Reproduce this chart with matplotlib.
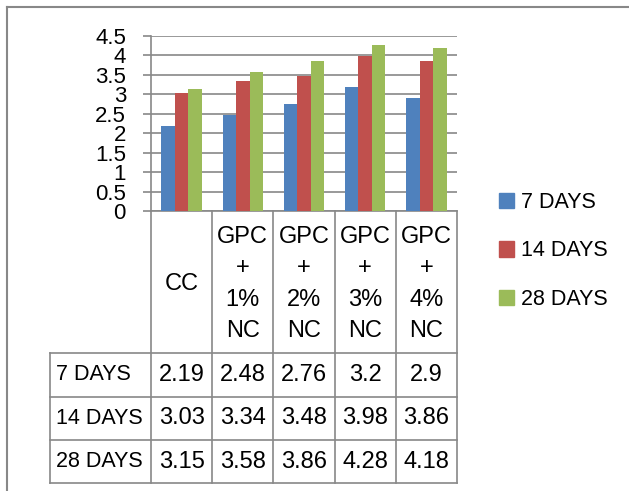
"""Flexural strength bar chart with an Excel-style data table underneath."""
import matplotlib.pyplot as plt
from matplotlib.lines import Line2D
from matplotlib.patches import Patch
from matplotlib.transforms import blended_transform_factory

plt.rcParams["font.family"] = ["Liberation Sans", "DejaVu Sans"]

categories = ["CC", "GPC\n+\n1%\nNC", "GPC\n+\n2%\nNC", "GPC\n+\n3%\nNC", "GPC\n+\n4%\nNC"]
series_names = ["7 DAYS", "14 DAYS", "28 DAYS"]
days_7 = [2.19, 2.48, 2.76, 3.2, 2.9]
days_14 = [3.03, 3.34, 3.48, 3.98, 3.86]
days_28 = [3.15, 3.58, 3.86, 4.28, 4.18]
yticks = [0, 0.5, 1, 1.5, 2, 2.5, 3, 3.5, 4, 4.5]

colors = ["#4F81BD", "#C0504D", "#9BBB59"]
grid_c = "#888888"
W, H = 629, 491
FS = 17      # numbers and category labels
FS_NAME = 15.5  # "n DAYS" labels


def fx(px):
    return px / W


def fy(py):
    return 1 - py / H


fig = plt.figure(figsize=(W / 100, H / 100), dpi=100)
ax = fig.add_axes([fx(151), fy(211), fx(457) - fx(151), fy(36) - fy(211)])

series = [days_7, days_14, days_28]
n = len(categories)
x = list(range(n))
bw = 0.22
for k, (vals, c) in enumerate(zip(series, colors)):
    ax.bar([i + (k - 1) * bw for i in x], vals, width=bw, color=c, zorder=3)

ax.set_xlim(-0.5, n - 0.5)
ax.set_ylim(0, 4.5)
ax.set_yticks(yticks)
ax.set_yticklabels([f"{t:g}" for t in yticks])
ax.set_xticks([])
ax.tick_params(axis="y", length=6, width=1.2, color=grid_c, pad=12, labelsize=16)
ax.grid(axis="y", color=grid_c, linewidth=1.2, zorder=0)
for s in ("top", "right"):
    ax.spines[s].set_visible(False)
for s in ("left", "bottom"):
    ax.spines[s].set_color(grid_c)
    ax.spines[s].set_linewidth(1.2)

# data table below the axis, columns follow the category positions
tr = blended_transform_factory(ax.transData, fig.transFigure)
row_y = [211, 353, 397, 440, 483]
line_kw = dict(color=grid_c, linewidth=1.2, clip_on=False)

for i in range(n + 1):
    fig.add_artist(Line2D([i - 0.5, i - 0.5], [fy(211), fy(483)], transform=tr, **line_kw))
for py in row_y[1:]:
    fig.add_artist(Line2D([fx(50), fx(457)], [fy(py), fy(py)], **line_kw))
fig.add_artist(Line2D([fx(50), fx(50)], [fy(353), fy(483)], **line_kw))

for i, lab in enumerate(categories):
    fig.text(i, fy((211 + 353) / 2) - 0.004, lab, transform=tr, ha="center", va="center",
             fontsize=FS, linespacing=1.55)

for r, (name, vals) in enumerate(zip(series_names, series)):
    yc = fy((row_y[r + 1] + row_y[r + 2]) / 2)
    fig.text(fx(56), yc, name, ha="left", va="center", fontsize=FS_NAME)
    for i, v in enumerate(vals):
        fig.text(i, yc, f"{v:g}", transform=tr, ha="center", va="center", fontsize=FS)

handles = [Patch(color=c, label=s) for c, s in zip(colors, series_names)]
fig.legend(handles=handles, loc="center left", bbox_to_anchor=(fx(499), fy(251)),
           frameon=False, fontsize=FS_NAME, handlelength=0.7, handleheight=0.7,
           handletextpad=0.32, labelspacing=1.29, borderpad=0, borderaxespad=0)

# chart area border
fig.add_artist(Line2D([fx(7), fx(7)], [fy(7), 0], color=grid_c, linewidth=1.5))
fig.add_artist(Line2D([fx(7), 1], [fy(7), fy(7)], color=grid_c, linewidth=1.5))

fig.savefig("out.png", dpi=100)
